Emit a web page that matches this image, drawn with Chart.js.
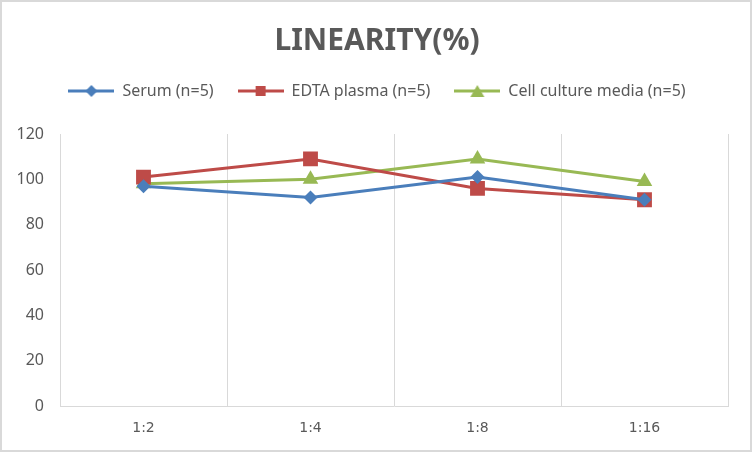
<!DOCTYPE html>
<html>
<head>
<meta charset="utf-8">
<script src="https://cdn.jsdelivr.net/npm/chart.js@4/dist/chart.umd.min.js"></script>
<style>
    body { margin: 0; background: #fff; }
    #wrap { width: 752px; height: 452px; box-sizing: border-box; border: 2px solid #d9d9d9; background: #fff; }
</style>
</head>
<body>
<div id="wrap"><canvas id="linearity-chart"></canvas></div>
<script>
// datos
const dilutions = ['1:2', '1:4', '1:8', '1:16'];
const serumValues = [97, 92, 101, 91];
const edtaValues = [101, 109, 96, 91];
const cellValues = [98, 100, 109, 99];
const seriesNames = ['Serum (n=5)', 'EDTA plasma (n=5)', 'Cell culture media (n=5)'];

const BLUE = '#4a7ebb';
const RED = '#be4b48';
const GREEN = '#98b954';
const TEXT = '#595959';
const GRID = '#d9d9d9';

// icono de leyenda: linea con marcador en el medio
function legendIcon(color, style) {
    const c = document.createElement('canvas');
    c.width = 46;
    c.height = 16;
    const ctx = c.getContext('2d');
    ctx.strokeStyle = color;
    ctx.fillStyle = color;
    ctx.lineWidth = 3;
    ctx.beginPath();
    ctx.moveTo(0, 8);
    ctx.lineTo(46, 8);
    ctx.stroke();
    ctx.beginPath();
    if (style === 'diamond') {
        ctx.moveTo(23, 2); ctx.lineTo(29, 8); ctx.lineTo(23, 14); ctx.lineTo(17, 8);
    } else if (style === 'square') {
        ctx.rect(18, 3, 10, 10);
    } else {
        ctx.moveTo(23, 2); ctx.lineTo(30, 14); ctx.lineTo(16, 14);
    }
    ctx.closePath();
    ctx.fill();
    return c;
}

const icons = [legendIcon(BLUE, 'diamond'), legendIcon(RED, 'square'), legendIcon(GREEN, 'triangle')];

function makeDataset(label, data, color, pointStyle, radius) {
    return {
        label: label,
        data: data,
        borderColor: color,
        backgroundColor: color,
        borderWidth: 3,
        pointStyle: pointStyle,
        pointRadius: radius,
        pointHoverRadius: radius,
        pointBorderWidth: 0,
        tension: 0
    };
}

// espacio extra debajo de la leyenda y titulo/leyenda centrados como en Excel
const legendGap = {
    id: 'legendGap',
    beforeInit(chart) {
        const fit = chart.legend.fit;
        chart.legend.fit = function () {
            fit.bind(this)();
            this.height += 28;
        };
    },
    afterLayout(chart) {
        [chart.legend, chart.titleBlock].forEach(box => {
            if (!box) return;
            box.left += 24;
        });
        if (chart.legend) chart.legend.top += 3;
    }
};

new Chart(document.getElementById('linearity-chart'), {
    type: 'line',
    data: {
        labels: dilutions,
        datasets: [
            makeDataset(seriesNames[0], serumValues, BLUE, 'rectRot', 7),
            makeDataset(seriesNames[1], edtaValues, RED, 'rect', 10.5),
            makeDataset(seriesNames[2], cellValues, GREEN, 'triangle', 9)
        ]
    },
    plugins: [legendGap],
    options: {
        responsive: true,
        maintainAspectRatio: false,
        animation: false,
        layout: { padding: { left: 0, right: 22, top: 0, bottom: 0 } },
        plugins: {
            title: {
                display: true,
                text: 'LINEARITY(%)',
                color: TEXT,
                font: { family: 'Noto Sans', size: 30, weight: 'bold', lineHeight: 1 },
                padding: { top: 24, bottom: 0 }
            },
            legend: {
                position: 'top',
                labels: {
                    usePointStyle: true,
                    pointStyleWidth: 46,
                    color: TEXT,
                    font: { family: 'Noto Sans', size: 16 },
                    padding: 24,
                    generateLabels: chart => chart.data.datasets.map((ds, i) => ({
                        text: ds.label,
                        pointStyle: icons[i],
                        fontColor: TEXT,
                        datasetIndex: i,
                        hidden: false,
                        lineWidth: 0
                    }))
                }
            },
            tooltip: { enabled: false }
        },
        scales: {
            x: {
                offset: true,
                grid: { offset: true, color: GRID, drawTicks: false },
                border: { color: GRID },
                ticks: { color: TEXT, font: { family: 'DejaVu Sans', size: 14 }, padding: 14 },
                afterFit: scale => { scale.height = 44; }
            },
            y: {
                min: 0,
                max: 120,
                grid: { display: false },
                border: { display: false },
                ticks: { stepSize: 20, color: TEXT, font: { family: 'Noto Sans', size: 16 }, padding: 8 },
                afterFit: scale => { scale.width = 58; }
            }
        }
    }
});
</script>
</body>
</html>
